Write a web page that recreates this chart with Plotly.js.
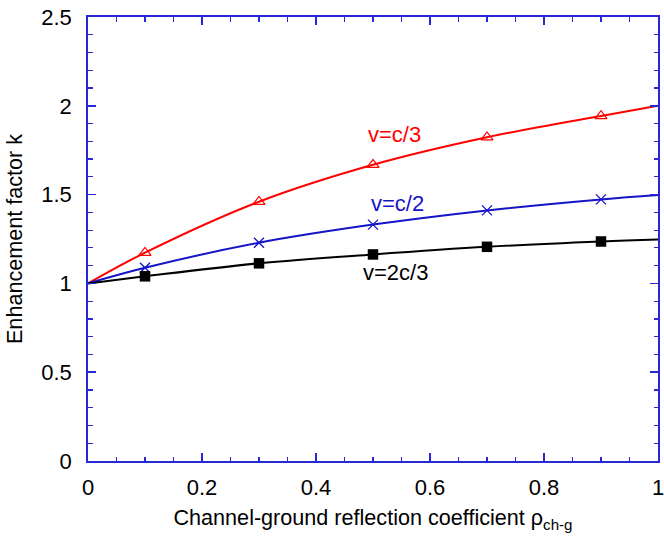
<!DOCTYPE html>
<html>
<head>
<meta charset="utf-8">
<script src="https://cdn.plot.ly/plotly-3.0.1.min.js"></script>
<style>html,body{margin:0;padding:0;background:#fff;}#chart{width:664px;height:536px;}</style>
</head>
<body>
<div id="chart"></div>
<script>
// Curve readings (reflection coefficient vs enhancement factor)
var rhoLine = [0, 0.1, 0.3, 0.5, 0.7, 0.9, 1.0];
var kC3Line = [1.0, 1.173, 1.46, 1.668, 1.823, 1.943, 2.0];
var kC2Line = [1.0, 1.088, 1.229, 1.331, 1.411, 1.473, 1.498];
var k2C3Line = [1.0, 1.04, 1.113, 1.163, 1.206, 1.236, 1.247];

// Marker readings
var rhoMark = [0.1, 0.3, 0.5, 0.7, 0.9];
var kC3Mark = [1.173, 1.46, 1.668, 1.823, 1.943];
var kC2Mark = [1.088, 1.229, 1.331, 1.411, 1.473];
var k2C3Mark = [1.04, 1.113, 1.163, 1.206, 1.236];

var seriesNames = ['v=c/3', 'v=c/2', 'v=2c/3'];

var xTickVals = [0, 0.2, 0.4, 0.6, 0.8, 1];
var xTickText = ['0', '0.2', '0.4', '0.6', '0.8', '1'];
var yTickVals = [0, 0.5, 1, 1.5, 2, 2.5];
var yTickText = ['0', '0.5', '1', '1.5', '2', '2.5'];

var RED = 'rgb(255,0,0)', BLUE = 'rgb(20,20,200)', BLACK = 'rgb(0,0,0)';
var AXIS = 'rgb(40,40,215)';
var FONT = 'Liberation Sans, Arial, sans-serif';

function line(y, c) {
  return {x: rhoLine, y: y, mode: 'lines', line: {color: c, width: 2, shape: 'spline', smoothing: 1}, hoverinfo: 'skip', showlegend: false};
}
function marks(y, c, sym, size, lw) {
  return {x: rhoMark, y: y, mode: 'markers', marker: {symbol: sym, size: size, color: c, line: {color: c, width: lw}}, showlegend: false};
}

var data = [
  line(kC3Line, RED), line(kC2Line, BLUE), line(k2C3Line, BLACK),
  marks(kC3Mark, RED, 'triangle-up-open', 10.5, 1.2),
  marks(kC2Mark, BLUE, 'x-thin-open', 10, 1.3),
  marks(k2C3Mark, BLACK, 'square', 10.5, 0)
];

var axisCommon = {
  showline: true, linecolor: AXIS, linewidth: 1.8, mirror: 'ticks',
  ticks: 'inside', ticklen: 8, tickwidth: 1.5, tickcolor: AXIS,
  showgrid: false, zeroline: false,
  tickfont: {family: FONT, size: 22, color: '#000'}
};

var layout = {
  width: 664, height: 536,
  margin: {l: 88, r: 6, t: 17, b: 75},
  paper_bgcolor: '#fff', plot_bgcolor: '#fff',
  font: {family: FONT, color: '#000'},
  xaxis: Object.assign({}, axisCommon, {
    range: [0, 1], tickmode: 'array', tickvals: xTickVals, ticktext: xTickText,
    ticklabeloverflow: 'allow',
    minor: {dtick: 0.05, ticks: 'inside', ticklen: 4.5, tickwidth: 1.2, tickcolor: AXIS, showgrid: false},
    ticklabelstandoff: 6,
    title: {text: 'Channel-ground reflection coefficient ρ<sub>ch-g</sub>', font: {family: FONT, size: 21.6, color: '#000'}, standoff: 11}
  }),
  yaxis: Object.assign({}, axisCommon, {
    range: [0, 2.5], tickmode: 'array', tickvals: yTickVals, ticktext: yTickText,
    ticklabeloverflow: 'allow',
    minor: {dtick: 0.1, ticks: 'inside', ticklen: 4.5, tickwidth: 1.2, tickcolor: AXIS, showgrid: false},
    ticklabelstandoff: 10,
    title: {text: 'Enhancement factor k', font: {family: FONT, size: 21.6, color: '#000'}, standoff: 13}
  }),
  annotations: [
    {x: 0.538, y: 1.841, xref: 'x', yref: 'y', text: seriesNames[0], showarrow: false, font: {family: FONT, size: 22, color: RED}},
    {x: 0.543, y: 1.451, xref: 'x', yref: 'y', text: seriesNames[1], showarrow: false, font: {family: FONT, size: 22, color: BLUE}},
    {x: 0.539, y: 1.062, xref: 'x', yref: 'y', text: seriesNames[2], showarrow: false, font: {family: FONT, size: 22, color: BLACK}}
  ]
};

Plotly.newPlot('chart', data, layout, {displayModeBar: false, staticPlot: true});
</script>
</body>
</html>
